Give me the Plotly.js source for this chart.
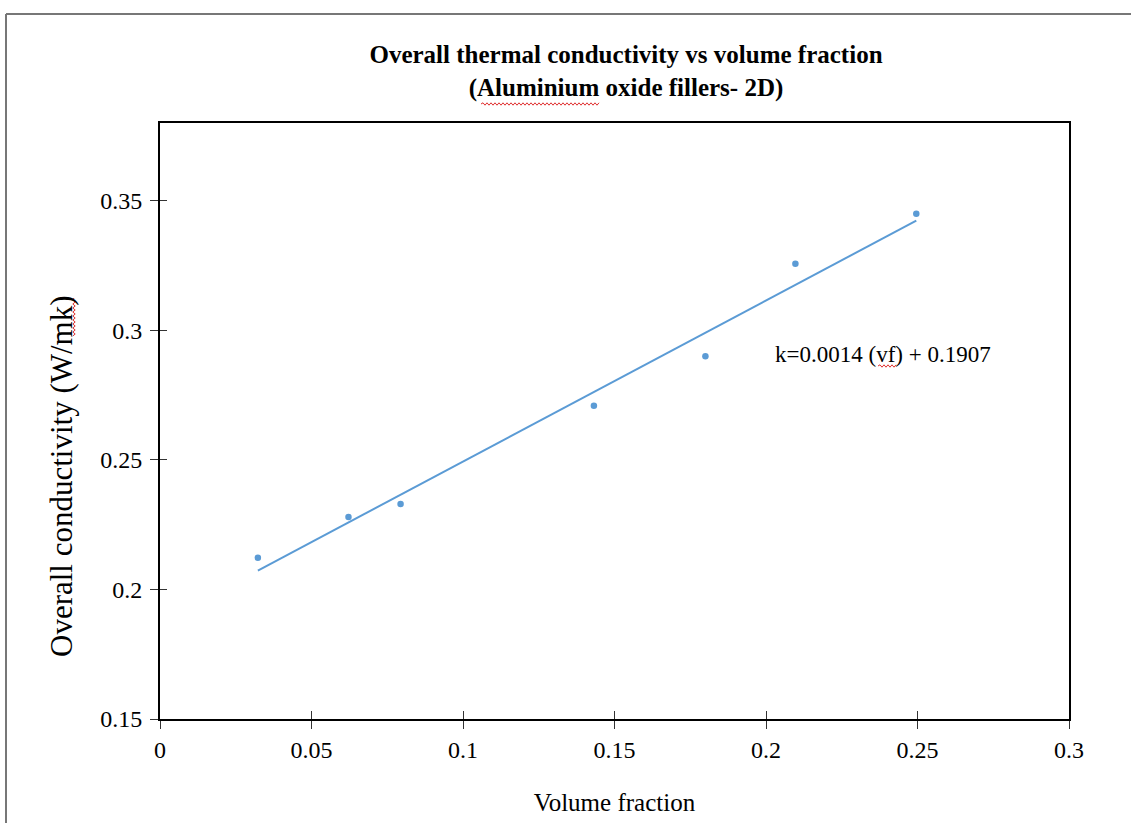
<!DOCTYPE html>
<html>
<head>
<meta charset="utf-8">
<script src="https://cdn.plot.ly/plotly-3.0.1.min.js"></script>
<style>html,body{margin:0;padding:0;background:#fff;}#chart{width:1131px;height:823px;}</style>
</head>
<body>
<div id="chart"></div>
<script>
// Data
var volumeFraction = [0.0323, 0.0622, 0.0794, 0.1432, 0.1800, 0.2097, 0.2496];
var conductivity   = [0.2122, 0.2280, 0.2330, 0.2709, 0.2900, 0.3257, 0.3450];
var xTickVals = [0, 0.05, 0.1, 0.15, 0.2, 0.25, 0.3];
var xTickText = ['0', '0.05', '0.1', '0.15', '0.2', '0.25', '0.3'];
var yTickVals = [0.15, 0.2, 0.25, 0.3, 0.35];
var yTickText = ['0.15', '0.2', '0.25', '0.3', '0.35'];
var titleLines = ['Overall thermal conductivity vs volume fraction', '(Aluminium oxide fillers- 2D)'];
var xTitle = 'Volume fraction';
var yTitle = 'Overall conductivity (W/mk)';
var equationText = 'k=0.0014 (vf) + 0.1907';

// Linear trendline (least squares) computed from the data
var n = volumeFraction.length, mx = 0, my = 0;
for (var i = 0; i < n; i++) { mx += volumeFraction[i]; my += conductivity[i]; }
mx /= n; my /= n;
var sxy = 0, sxx = 0;
for (var i = 0; i < n; i++) { sxy += (volumeFraction[i]-mx)*(conductivity[i]-my); sxx += (volumeFraction[i]-mx)*(volumeFraction[i]-mx); }
var slope = sxy/sxx, intercept = my - slope*mx;
var xmin = Math.min.apply(null, volumeFraction), xmax = Math.max.apply(null, volumeFraction);
var trendX = [xmin, xmax];
var trendY = [intercept + slope*xmin, intercept + slope*xmax];

var blue = '#5B9BD5';
var serif = 'Liberation Serif, Times New Roman, serif';

// pixel -> paper helpers for decorations
var L = 160, R = 1069, T = 123, B = 719;
function px(X){ return (X - L)/(R - L); }
function py(Y){ return (B - Y)/(B - T); }
function squiggleH(x0, x1, y){
  var d = 'M' + px(x0) + ',' + py(y), up = true;
  for (var X = x0 + 2; X <= x1; X += 2) { d += ' L' + px(X) + ',' + py(y + (up ? -1.2 : 1.2)); up = !up; }
  return {type:'path', xref:'paper', yref:'paper', path:d, line:{color:'#e03030', width:1}};
}
function squiggleV(x, y0, y1){
  var d = 'M' + px(x) + ',' + py(y0), up = true;
  for (var Y = y0 + 2; Y <= y1; Y += 2) { d += ' L' + px(x + (up ? -1.2 : 1.2)) + ',' + py(Y); up = !up; }
  return {type:'path', xref:'paper', yref:'paper', path:d, line:{color:'#e03030', width:1}};
}

var traces = [
  {x: trendX, y: trendY, mode: 'lines', line: {color: blue, width: 2}, hoverinfo: 'skip', showlegend: false},
  {x: volumeFraction, y: conductivity, mode: 'markers', marker: {color: blue, size: 6.5}, showlegend: false},
  {x: [null], y: [null], xaxis: 'x2', yaxis: 'y2', mode: 'markers', showlegend: false, hoverinfo: 'skip'}
];

var axisCommon = {
  showgrid: false, zeroline: false, showline: true, linecolor: '#000', linewidth: 2, mirror: true,
  ticks: 'outside', ticklen: 8, tickwidth: 1, tickcolor: '#333',
  tickfont: {family: serif, size: 24, color: '#000'}
};

var layout = {
  width: 1131, height: 823,
  margin: {l: L, r: 1131 - R, t: T, b: 823 - B},
  paper_bgcolor: '#fff', plot_bgcolor: '#fff',
  title: {
    text: titleLines.join('<br>'),
    font: {family: serif, size: 25, color: '#000', weight: 700},
    x: 626/1131, xanchor: 'center', xref: 'container',
    y: 1 - 63/823, yanchor: 'middle', yref: 'container'
  },
  xaxis: Object.assign({}, axisCommon, {
    range: [0, 0.3], tickmode: 'array', tickvals: xTickVals, ticktext: xTickText,
    title: {text: xTitle, font: {family: serif, size: 25, color: '#000'}, standoff: 32}
  }),
  yaxis: Object.assign({}, axisCommon, {
    range: [0.15, 0.38], tickmode: 'array', tickvals: yTickVals, ticktext: yTickText,
    ticklabelstandoff: 3
  }),
  xaxis2: {overlaying: 'x', range: [0, 0.3], tickmode: 'array', tickvals: xTickVals, ticks: 'inside', ticklen: 8,
           tickwidth: 1, tickcolor: '#333', showticklabels: false, showgrid: false, zeroline: false, showline: false},
  yaxis2: {overlaying: 'y', range: [0.15, 0.38], tickmode: 'array', tickvals: yTickVals, ticks: 'inside', ticklen: 7,
           tickwidth: 1, tickcolor: '#333', showticklabels: false, showgrid: false, zeroline: false, showline: false},
  annotations: [
    {xref: 'x', yref: 'y', x: 0.2023, y: 0.2907, xanchor: 'left', yanchor: 'middle', showarrow: false,
     text: equationText, font: {family: serif, size: 23, color: '#000'}},
    {xref: 'paper', yref: 'paper', x: px(61), y: py(476), xanchor: 'center', yanchor: 'middle', showarrow: false,
     textangle: -90, text: yTitle, font: {family: serif, size: 31, color: '#000'}}
  ],
  shapes: [
    {type: 'line', xref: 'paper', yref: 'paper', x0: px(6), x1: px(1135), y0: py(14), y1: py(14), line: {color: '#777', width: 2}},
    {type: 'line', xref: 'paper', yref: 'paper', x0: px(6), x1: px(6), y0: py(14), y1: py(830), line: {color: '#777', width: 2}},
    squiggleH(481, 600, 104),
    squiggleH(878, 897, 366),
    squiggleV(74, 298, 336)
  ]
};

Plotly.newPlot('chart', traces, layout, {displayModeBar: false, staticPlot: true});
</script>
</body>
</html>
